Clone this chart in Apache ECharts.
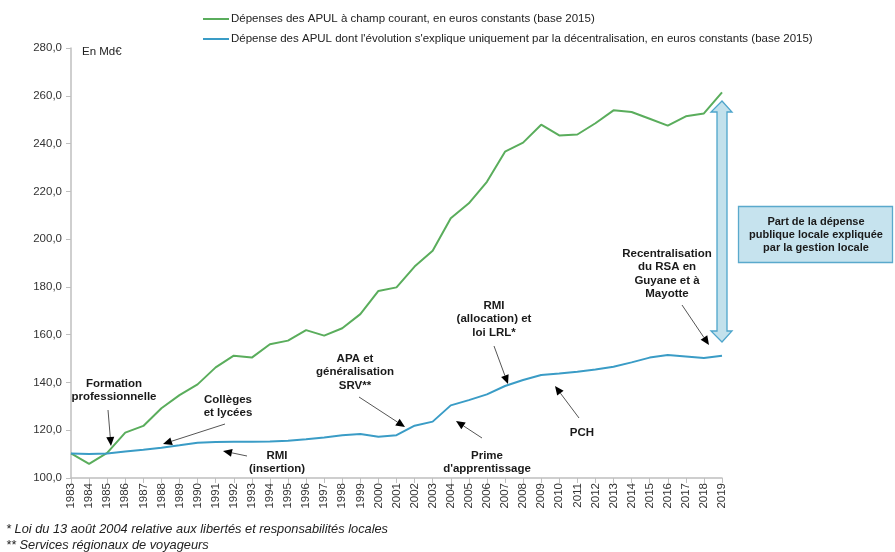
<!DOCTYPE html>
<html>
<head>
<meta charset="utf-8">
<script src="https://cdn.jsdelivr.net/npm/echarts@6/dist/echarts.min.js"></script>
<style>
  html, body { margin: 0; padding: 0; background: #fff; }
  #chart { width: 895px; height: 552px; }
</style>
</head>
<body>
<div id="chart"></div>
<script>
// années
const years = ['1983', '1984', '1985', '1986', '1987', '1988', '1989', '1990', '1991', '1992',
  '1993', '1994', '1995', '1996', '1997', '1998', '1999', '2000', '2001', '2002',
  '2003', '2004', '2005', '2006', '2007', '2008', '2009', '2010', '2011', '2012',
  '2013', '2014', '2015', '2016', '2017', '2018', '2019']

// dépenses APUL à champ courant (Md€ constants 2015)
const depensesCourant = [110.3, 105.9, 110.5, 119.0, 121.8, 129.2, 134.7, 139.2, 146.3, 151.2,
  150.4, 156.0, 157.5, 161.9, 159.6, 162.7, 168.6, 178.3, 179.8, 188.5,
  195.1, 208.7, 215.0, 224.0, 236.6, 240.4, 247.9, 243.4, 243.8, 248.5,
  253.9, 253.2, 250.4, 247.5, 251.4, 252.6, 261.4]

// dépense expliquée uniquement par la décentralisation
const depensesDecentralisation = [110.3, 110.0, 110.3, 111.1, 111.8, 112.7, 113.7, 114.8, 115.1, 115.2,
  115.2, 115.3, 115.6, 116.2, 117.0, 117.9, 118.4, 117.3, 117.9, 121.9,
  123.6, 130.4, 132.6, 135.0, 138.5, 141.0, 143.1, 143.7, 144.5, 145.4,
  146.6, 148.4, 150.4, 151.5, 150.9, 150.2, 151.2]

const yTicks = { min: 100, max: 280, step: 20 }

const seriesNames = [
  'Dépenses des APUL à champ courant, en euros constants (base 2015)',
  'Dépense des APUL dont l\'évolution s\'explique uniquement par la décentralisation, en euros constants (base 2015)'
]

const FONT = '"Liberation Sans", Arial, sans-serif'
const GREEN = '#5aad5c'
const BLUE = '#3a9cc6'

// petite flèche d'annotation : trait gris + pointe noire
function arrow(x1, y1, x2, y2) {
  const a = Math.atan2(y2 - y1, x2 - x1)
  const len = 9, w = 4
  const bx = x2 - len * Math.cos(a), by = y2 - len * Math.sin(a)
  const px = -Math.sin(a) * w, py = Math.cos(a) * w
  return [
    { type: 'line', shape: { x1: x1, y1: y1, x2: bx, y2: by }, style: { stroke: '#555', lineWidth: 1 } },
    { type: 'polygon', shape: { points: [[x2, y2], [bx + px, by + py], [bx - px, by - py]] }, style: { fill: '#000' } }
  ]
}

function label(x, y, lines) {
  return {
    type: 'text', x: x, y: y,
    style: {
      text: lines.join('\n'), font: 'bold 11.5px ' + FONT, fill: '#1a1a1a',
      align: 'center', verticalAlign: 'top', lineHeight: 13.4
    }
  }
}

const chart = echarts.init(document.getElementById('chart'))

chart.setOption({
  animation: false,
  textStyle: { fontFamily: FONT },
  grid: { left: 71, right: 173, top: 48, bottom: 74, containLabel: false },
  legend: {
    orient: 'vertical',
    left: 198,
    top: 8,
    itemWidth: 26,
    itemHeight: 2,
    itemGap: 8,
    icon: 'rect',
    textStyle: { fontSize: 11.5, color: '#222', fontFamily: FONT, padding: [0, 0, 0, -3] },
    data: seriesNames
  },
  xAxis: {
    type: 'category',
    data: years,
    boundaryGap: false,
    axisLine: { lineStyle: { color: '#bfbfbf', width: 1.5 } },
    axisTick: { length: 5, lineStyle: { color: '#bfbfbf' } },
    axisLabel: { rotate: 90, fontSize: 11.5, color: '#333', margin: 5, interval: 0 }
  },
  yAxis: {
    type: 'value',
    min: yTicks.min,
    max: yTicks.max,
    interval: yTicks.step,
    axisLine: { show: true, lineStyle: { color: '#bfbfbf', width: 1.5 } },
    axisTick: { show: true, length: 5, lineStyle: { color: '#bfbfbf' } },
    splitLine: { show: false },
    axisLabel: {
      fontSize: 11.5, color: '#333', margin: 9,
      formatter: v => v.toFixed(1).replace('.', ',')
    }
  },
  series: [
    {
      name: seriesNames[0],
      type: 'line',
      data: depensesCourant,
      symbol: 'none',
      color: GREEN,
      lineStyle: { color: GREEN, width: 2 }
    },
    {
      name: seriesNames[1],
      type: 'line',
      data: depensesDecentralisation,
      symbol: 'none',
      color: BLUE,
      lineStyle: { color: BLUE, width: 2 }
    }
  ],
  graphic: [
    { type: 'text', x: 82, y: 46, style: { text: 'En Md€', font: '11.5px ' + FONT, fill: '#222' } },

    label(114, 377, ['Formation', 'professionnelle']),
    ...arrow(108, 410, 111, 446),
    label(228, 393, ['Collèges', 'et lycées']),
    ...arrow(225, 424, 163, 444),
    label(277, 449, ['RMI', '(insertion)']),
    ...arrow(247, 456, 223, 451),
    label(355, 352, ['APA et', 'généralisation', 'SRV**']),
    ...arrow(359, 397, 405, 427),
    label(487, 449, ['Prime', 'd\'apprentissage']),
    ...arrow(482, 438, 456, 421),
    label(494, 299, ['RMI', '(allocation) et', 'loi LRL*']),
    ...arrow(494, 346, 508, 384),
    label(582, 426, ['PCH']),
    ...arrow(579, 418, 555, 386),
    label(667, 247, ['Recentralisation', 'du RSA en', 'Guyane et à', 'Mayotte']),
    ...arrow(682, 305, 709, 345),

    // double flèche bleue
    {
      type: 'polygon',
      shape: {
        points: [[722, 101], [732, 112], [727, 112], [727, 331], [732, 331], [722, 342],
          [711, 331], [717, 331], [717, 112], [711, 112]]
      },
      style: { fill: '#c2e1ec', stroke: '#4ea5cb', lineWidth: 1.3 }
    },
    // encadré
    {
      type: 'rect',
      shape: { x: 738.5, y: 206.5, width: 154, height: 56 },
      style: { fill: '#c6e3ee', stroke: '#5aa9cc', lineWidth: 1.3 }
    },
    {
      type: 'text', x: 816, y: 215,
      style: {
        text: 'Part de la dépense\npublique locale expliquée\npar la gestion locale',
        font: 'bold 11px ' + FONT, fill: '#1a1a1a', align: 'center', verticalAlign: 'top', lineHeight: 13
      }
    },

    // notes
    { type: 'text', x: 6, y: 523, style: { text: '* Loi du 13 août 2004 relative aux libertés et responsabilités locales', font: 'italic 12.8px ' + FONT, fill: '#222' } },
    { type: 'text', x: 6, y: 539, style: { text: '** Services régionaux de voyageurs', font: 'italic 12.8px ' + FONT, fill: '#222' } }
  ]
})
</script>
</body>
</html>
